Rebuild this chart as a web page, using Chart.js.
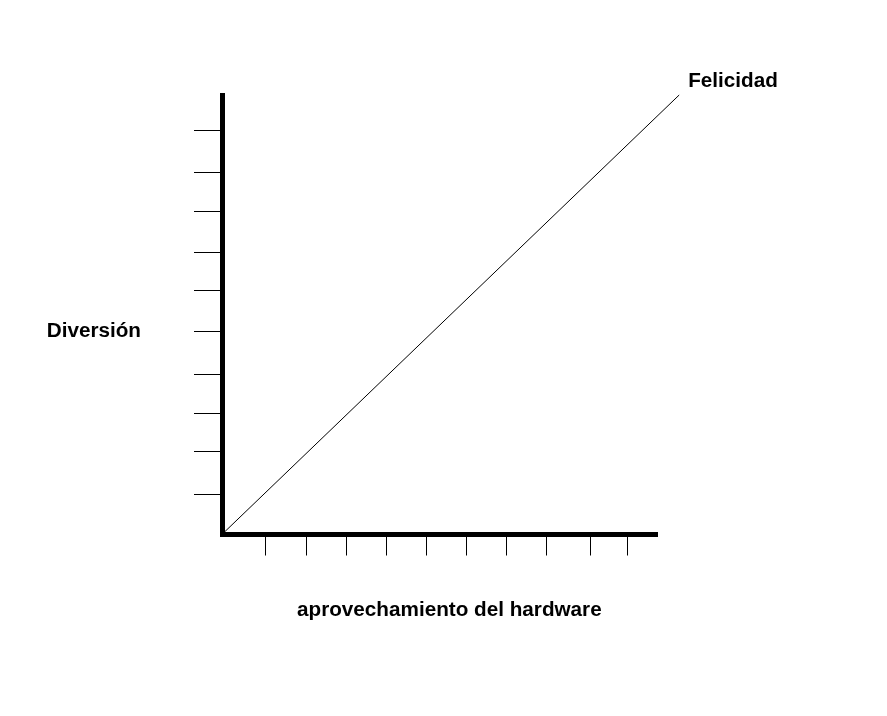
<!DOCTYPE html>
<html>
<head>
<meta charset="utf-8">
<script src="https://cdn.jsdelivr.net/npm/chart.js@4"></script>
<style>
  html, body { margin: 0; padding: 0; background: #fff; }
  #wrap { width: 887px; height: 716px; }
</style>
</head>
<body>
<div id="wrap"><canvas id="chart" width="887" height="716"></canvas></div>
<script>
// Datos del dibujo (unidades arbitrarias, 0 a 10)
const lineLabel = 'Felicidad';
const xTitle = 'aprovechamiento del hardware';
const yTitle = 'Diversión';
const lineX = [0.05, 10.51];
const lineY = [0.05, 10];
const xTickValues = [1.01, 1.95, 2.87, 3.79, 4.69, 5.63, 6.53, 7.47, 8.46, 9.33];
const yTickValues = [0.92, 1.89, 2.76, 3.65, 4.62, 5.55, 6.41, 7.36, 8.23, 9.20];

const points = lineX.map((x, i) => ({ x: x, y: lineY[i] }));

// Textos dibujados a mano (titulos horizontales y etiqueta de la linea)
const textPlugin = {
  id: 'texts',
  afterDraw(chart) {
    const ctx = chart.ctx;
    const area = chart.chartArea;
    const xs = chart.scales.x, ys = chart.scales.y;
    ctx.save();
    ctx.fillStyle = '#000';
    ctx.font = 'bold 20.7px "Liberation Sans", Arial, sans-serif';
    ctx.textBaseline = 'alphabetic';
    // etiqueta al final de la linea
    const last = points[points.length - 1];
    ctx.textAlign = 'left';
    ctx.fillText(lineLabel, xs.getPixelForValue(last.x) + 9, ys.getPixelForValue(last.y) - 8);
    // titulo eje Y (horizontal, a la izquierda)
    ctx.textAlign = 'right';
    ctx.fillText(yTitle, area.left - 81, 337);
    // titulo eje X
    ctx.textAlign = 'left';
    ctx.fillText(xTitle, 297, area.bottom + 81.5);
    ctx.restore();
  }
};

new Chart(document.getElementById('chart').getContext('2d'), {
  type: 'scatter',
  data: {
    datasets: [{
      label: lineLabel,
      data: points,
      showLine: true,
      borderColor: '#000',
      borderWidth: 1,
      pointRadius: 0,
      clip: false
    }]
  },
  options: {
    responsive: false,
    animation: false,
    events: [],
    layout: { padding: { left: 222, right: 230, top: 95, bottom: 181.5 } },
    plugins: { legend: { display: false }, tooltip: { enabled: false } },
    scales: {
      x: {
        type: 'linear',
        min: 0, max: 10,
        afterBuildTicks: s => { s.ticks = xTickValues.map(v => ({ value: v })); },
        afterFit: s => { s.height = 0; },
        ticks: { display: false },
        grid: { drawOnChartArea: false, drawTicks: true, tickLength: 21, color: '#000', lineWidth: 1 },
        border: { display: true, color: '#000', width: 5 }
      },
      y: {
        type: 'linear',
        min: 0, max: 10,
        afterBuildTicks: s => { s.ticks = yTickValues.map(v => ({ value: v })); },
        afterFit: s => { s.width = 0; },
        ticks: { display: false },
        grid: { drawOnChartArea: false, drawTicks: true, tickLength: 28, color: '#000', lineWidth: 1 },
        border: { display: true, color: '#000', width: 5 }
      }
    }
  },
  plugins: [textPlugin]
});
</script>
</body>
</html>
